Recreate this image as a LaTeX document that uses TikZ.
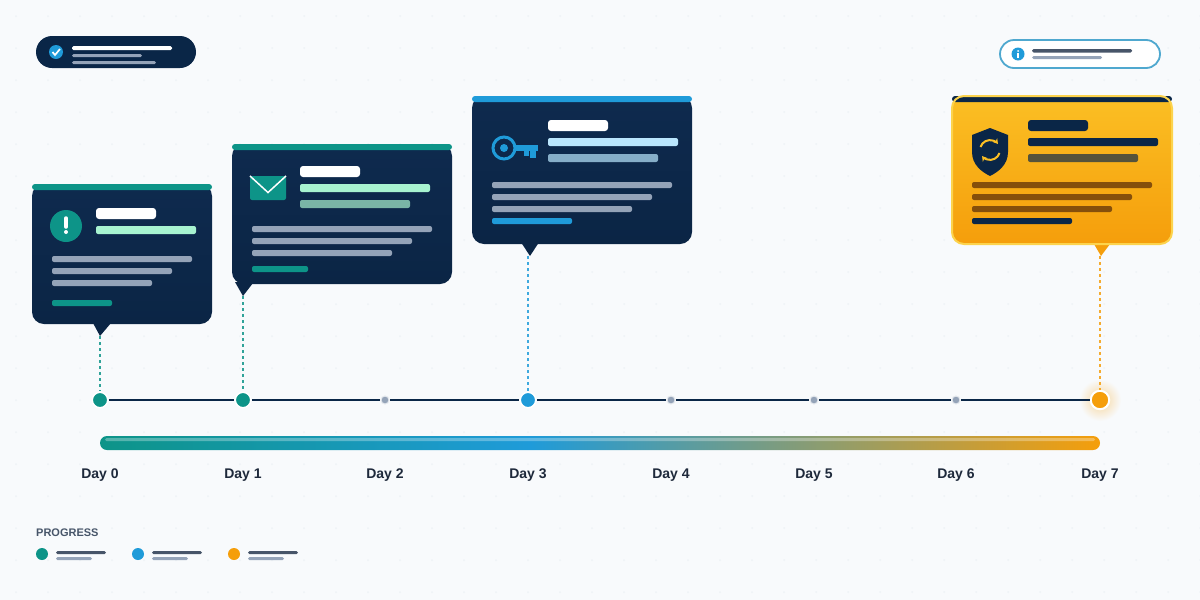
\documentclass[tikz,border=0pt]{standalone}
\usepackage{fontspec}
\setmainfont{Liberation Sans}
\usetikzlibrary{arrows.meta}
\definecolor{pagebg}{HTML}{F8FAFC}
\definecolor{speck}{HTML}{EEF2F6}
\definecolor{navy}{HTML}{0A2647}
\definecolor{cardtop}{HTML}{0E2A4E}
\definecolor{cardbot}{HTML}{0B2545}
\definecolor{teal}{HTML}{0D9488}
\definecolor{sky}{HTML}{1F9BD9}
\definecolor{skyrim}{HTML}{4FA8CF}
\definecolor{amber}{HTML}{F59E0B}
\definecolor{gold}{HTML}{FBBF24}
\definecolor{goldrim}{HTML}{FCD34D}
\definecolor{mint}{HTML}{A7F3D0}
\definecolor{mintdim}{HTML}{7AB5A6}
\definecolor{ice}{HTML}{BAE6FD}
\definecolor{icedim}{HTML}{86AEC8}
\definecolor{slate}{HTML}{94A3B8}
\definecolor{slatedark}{HTML}{475569}
\definecolor{ink}{HTML}{1E293B}
\definecolor{brownbar}{HTML}{854F0B}
\definecolor{olivebar}{HTML}{55533B}
\pgfdeclarehorizontalshading{barshade}{100bp}{color(0bp)=(teal); color(25bp)=(teal); color(46.5bp)=(sky); color(75bp)=(amber); color(100bp)=(amber)}
\tikzset{
  pill/.style={rounded corners=2pt},
  thin pill/.style={rounded corners=1.5pt},
  bigdot/.style={circle,draw=white,line width=1.5pt,minimum size=15.5pt,inner sep=0pt,outer sep=1pt},
  smalldot/.style={circle,draw=slate!25!white,line width=1pt,fill=slate,minimum size=8pt,inner sep=0pt,outer sep=1pt},
  daylabel/.style={font=\fontsize{14}{16}\selectfont\bfseries,text=ink},
  link/.style={line width=1.8pt,dash pattern=on 3pt off 3pt,opacity=.85},
  axis/.style={navy,line width=2.2pt}
}
\begin{document}
\begin{tikzpicture}[x=1pt,y=-1pt]
    \useasboundingbox (0,0) rectangle (1200,600);
    % Fond et petits points
    \fill[pagebg] (0,0) rectangle (1200,600);
    \foreach \x in {16,48,...,1200}
        \foreach \y in {16,48,...,600}
            \fill[speck] (\x,\y) circle (1);

    % Badges du haut
    \fill[navy,rounded corners=16pt] (36,36) rectangle (196,68);
    \fill[sky] (56,52) circle (7);
    \draw[white,line width=1.7pt] (52.5,52) -- (55,55) -- (60,49);
    \fill[white,thin pill] (72,46) rectangle (172,50);
    \fill[slate,thin pill] (72,54) rectangle (142,57);
    \fill[slate,thin pill] (72,61) rectangle (156,64);

    \draw[skyrim,fill=white,line width=1.8pt,rounded corners=14pt] (1000,40) rectangle (1160,68);
    \fill[sky] (1018,54) circle (6.5);
    \fill[white] (1018,51) circle (1);
    \draw[white,line width=1.5pt] (1018,53) -- (1018,58);
    \fill[slatedark,thin pill] (1032,49) rectangle (1132,52.5);
    \fill[slate,thin pill] (1032,56) rectangle (1102,59);

    % Carte du jour 0
    \coordinate (tip0) at (100,336);
    \fill[cardbot] (93,323) -- (111,323) -- (tip0) -- cycle;
    \shade[top color=cardtop,bottom color=cardbot,rounded corners=12pt] (32,184) rectangle (212,324);
    \fill[teal,rounded corners=3pt] (32,184) rectangle (212,190);
    \fill[teal] (66,226) circle (16);
    \draw[white,line width=3.5pt,line cap=round] (66,218) -- (66,227);
    \fill[white] (66,232) circle (2);
    \fill[white,rounded corners=3pt] (96,208) rectangle (156,219);
    \fill[mint,pill] (96,226) rectangle (196,234);
    \foreach \xb/\y in {192/256,172/268,152/280}
        \fill[slate,pill] (52,\y) rectangle (\xb,\y+6);
    \fill[teal,pill] (52,300) rectangle (112,306);

    % Carte du jour 1
    \coordinate (tip1) at (243,296);
    \fill[cardbot] (235,282) -- (253,283) -- (tip1) -- cycle;
    \shade[top color=cardtop,bottom color=cardbot,rounded corners=12pt] (232,144) rectangle (452,284);
    \fill[teal,rounded corners=3pt] (232,144) rectangle (452,150);
    \fill[teal,rounded corners=2pt] (250,176) rectangle (286,200);
    \draw[white,line width=1.5pt] (250,176) -- (268,192.5) -- (286,176);
    \fill[white,rounded corners=3pt] (300,166) rectangle (360,177);
    \fill[mint,pill] (300,184) rectangle (430,192);
    \fill[mintdim,pill] (300,200) rectangle (410,208);
    \foreach \xb/\y in {432/226,412/238,392/250}
        \fill[slate,pill] (252,\y) rectangle (\xb,\y+6);
    \fill[teal,pill] (252,266) rectangle (308,272);

    % Carte du jour 3
    \coordinate (tip3) at (530,256);
    \fill[cardbot] (521.5,243) -- (538.5,243) -- (tip3) -- cycle;
    \shade[top color=cardtop,bottom color=cardbot,rounded corners=12pt] (472,96) rectangle (692,244);
    \fill[sky,rounded corners=3pt] (472,96) rectangle (692,102);
    \draw[sky,line width=3pt] (504,148) circle (11);
    \fill[sky] (504,148) circle (4);
    \fill[sky] (515,145) rectangle (537.5,151);
    \fill[sky] (524,150) rectangle (528.5,156);
    \fill[sky] (530,150) rectangle (535.5,157.5);
    \fill[white,rounded corners=3pt] (548,120) rectangle (608,131);
    \fill[ice,pill] (548,138) rectangle (678,146);
    \fill[icedim,pill] (548,154) rectangle (658,162);
    \foreach \xb/\y in {672/182,652/194,632/206}
        \fill[slate,pill] (492,\y) rectangle (\xb,\y+6);
    \fill[sky,pill] (492,218) rectangle (572,224);

    % Carte du jour 7
    \coordinate (tip7) at (1101,256);
    \fill[amber] (1094,244) -- (1110,244) -- (tip7) -- cycle;
    \shade[top color=gold,bottom color=amber,rounded corners=12pt] (952,96) rectangle (1172,244);
    \fill[navy,rounded corners=3pt] (952,96) rectangle (1172,102);
    \draw[goldrim,line width=2pt,rounded corners=12pt] (952,96) rectangle (1172,244);
    \fill[navy] (990,128) -- (1008,135) -- (1008,152) .. controls (1008,165) and (998,172) .. (990,176)
        .. controls (982,172) and (972,165) .. (972,152) -- (972,135) -- cycle;
    \draw[gold,line width=2pt,-{Stealth[length=5pt,width=6pt]}] (980.5,147) arc (198:322:10);
    \draw[gold,line width=2pt,-{Stealth[length=5pt,width=6pt]}] (999.5,153) arc (18:142:10);
    \fill[navy,rounded corners=3pt] (1028,120) rectangle (1088,131);
    \fill[navy,pill] (1028,138) rectangle (1158,146);
    \fill[olivebar,pill] (1028,154) rectangle (1138,162);
    \foreach \xb/\y in {1152/182,1132/194,1112/206}
        \fill[brownbar,pill] (972,\y) rectangle (\xb,\y+6);
    \fill[navy,pill] (972,218) rectangle (1072,224);

    % Axe du temps
    \shade[inner color=amber!40!pagebg,outer color=pagebg] (1100,400) circle (21);
    \node[bigdot,fill=teal] (d0) at (100,400) {};
    \node[bigdot,fill=teal] (d1) at (243,400) {};
    \node[smalldot] (d2) at (385,400) {};
    \node[bigdot,fill=sky] (d3) at (528,400) {};
    \node[smalldot] (d4) at (671,400) {};
    \node[smalldot] (d5) at (814,400) {};
    \node[smalldot] (d6) at (956,400) {};
    \node[bigdot,fill=amber,line width=2pt,minimum size=18.5pt] (d7) at (1100,400) {};
    \foreach \a/\b in {d0/d1,d1/d2,d2/d3,d3/d4,d4/d5,d5/d6,d6/d7}
        \draw[axis] (\a) -- (\b);

    % Liens vers les cartes
    \draw[link,teal] (tip0) -- (d0);
    \draw[link,teal] (tip1) -- (d1);
    \draw[link,sky] (528,256) -- (d3);
    \draw[link,amber] (1100,256) -- (d7);

    % Barre de progression
    \shade[shading=barshade,rounded corners=7pt] (100,436) rectangle (1100,450);
    \fill[white,opacity=.3,rounded corners=1.5pt] (105,438) rectangle (1095,441);

    % Jours
    \foreach \x/\t [count=\i from 0] in {100/Day 0,243/Day 1,385/Day 2,528/Day 3,671/Day 4,814/Day 5,956/Day 6,1100/Day 7}
        \node[daylabel] (label\i) at (\x,475) {\t};

    % Legende
    \node[anchor=west,inner sep=0pt,font=\fontsize{11}{13}\selectfont\bfseries,text=slatedark] (legendtitle) at (36,533) {PROGRESS};
    \foreach \x/\c in {36/teal,132/sky,228/amber} {
        \fill[\c] (\x+6,554) circle (6);
        \fill[slatedark,thin pill] (\x+20,551) rectangle (\x+70,554);
        \fill[slate,thin pill] (\x+20,557) rectangle (\x+56,560);
    }
\end{tikzpicture}
\end{document}
